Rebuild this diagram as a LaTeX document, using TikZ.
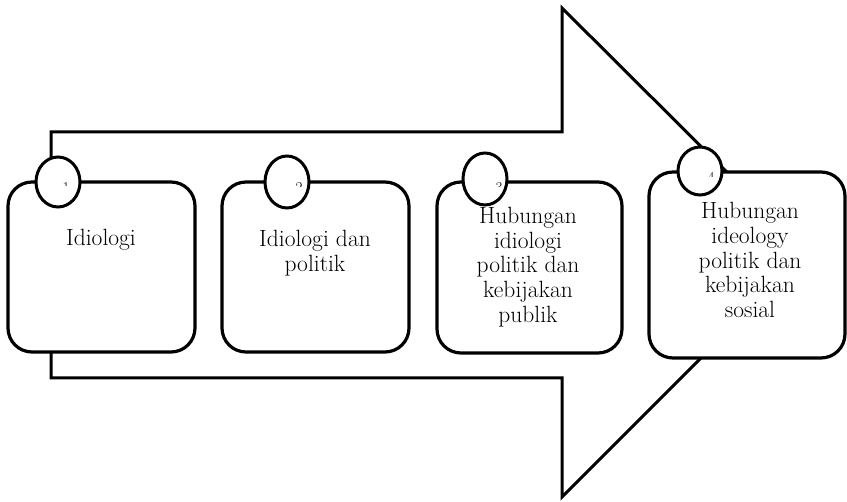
\documentclass[tikz,border=0pt]{standalone}
\begin{document}
\begin{tikzpicture}[x=1pt,y=-1pt,line join=miter,
  outline/.style={draw=black,line width=3pt},
  stepbox/.style={draw=black,line width=3.2pt,fill=white,rounded corners=24pt},
  badge/.style={draw=black,line width=3pt,fill=white},
  label/.style={align=center,font=\fontsize{23.5}{24.8}\selectfont,inner sep=0pt},
  digit/.style={font=\fontsize{15}{18}\selectfont,inner sep=0pt,anchor=north}]
\useasboundingbox (0,0) rectangle (847,502);

% big block arrow in the background
\draw[outline] (51,132) -- (562,132) -- (562,8) -- (807,252)
  -- (562,497) -- (562,378) -- (51,378) -- cycle;

% the four stages
\draw[stepbox] (8,182) rectangle (195,352);
\draw[stepbox] (222,182) rectangle (409,352);
\draw[stepbox] (437,182) rectangle (622,353);
\draw[stepbox] (649,172) rectangle (845,358);

\node[label] (t1) at (101,240) {Idiologi};
\node[label] (t2) at (315,253) {Idiologi dan\\politik};
\node[label] (t3) at (528,267) {Hubungan\\idiologi\\politik dan\\kebijakan\\publik};
\node[label] (t4) at (750,260) {Hubungan\\ideology\\politik dan\\kebijakan\\sosial};

% number badges; only the top of each digit shows
\draw[badge] (58,182) ellipse [x radius=22,y radius=25];
\draw[badge] (287,182) ellipse [x radius=22,y radius=26];
\draw[badge] (485,179) ellipse [x radius=22,y radius=26];
\draw[badge] (700,171) ellipse [x radius=22,y radius=24];

\begin{scope}
  \clip (40,182) rectangle (80,186);
  \node[digit] (n1) at (66,182) {1};
\end{scope}
\begin{scope}
  \clip (280,182) rectangle (310,187);
  \node[digit] (n2) at (299,182) {2};
\end{scope}
\begin{scope}
  \clip (480,182) rectangle (510,187);
  \node[digit] (n3) at (499,182) {3};
\end{scope}
\begin{scope}
  \clip (690,172) rectangle (720,177);
  \node[digit] (n4) at (711,172) {4};
\end{scope}
\end{tikzpicture}
\end{document}
